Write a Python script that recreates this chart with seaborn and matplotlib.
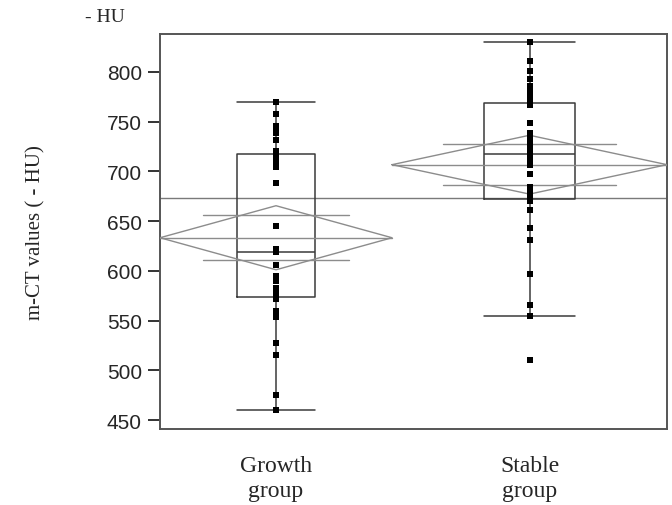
import numpy as np
import pandas as pd
import seaborn as sns
import matplotlib
matplotlib.use("Agg")
import matplotlib.pyplot as plt

# m-CT values (-HU), one point per patient
growth = [460, 475, 515, 527, 554, 560, 572, 575, 580, 583, 590, 595, 606, 619,
          622, 645, 688, 704, 708, 714, 720, 731, 738, 742, 746, 758, 770]
stable = [510, 555, 566, 597, 631, 643, 661, 670, 673, 676, 681, 684, 697, 706,
          712, 716, 718, 722, 727, 730, 735, 738, 749, 767, 772, 776, 780, 786,
          793, 801, 811, 830]
groups = ["Growth", "Stable"]
tick_labels = ["Growth\ngroup", "Stable\ngroup"]
yticks = [450, 500, 550, 600, 650, 700, 750, 800]

df = pd.DataFrame({
    "group": ["Growth"] * len(growth) + ["Stable"] * len(stable),
    "value": growth + stable,
})

sns.set_style("white")
serif = ["Liberation Serif", "DejaVu Serif"]
sans = ["Liberation Sans", "DejaVu Sans"]
plt.rcParams["font.family"] = sans

fig = plt.figure(figsize=(6.72, 5.06), dpi=100)
ax = fig.add_axes([160 / 672, 76 / 506, 507 / 672, 395 / 506])

# group widths proportional to sample size (JMP style)
counts = [len(growth), len(stable)]
k = 2 / sum(counts)
spans = [c * k for c in counts]
left = -spans[0] / 2
right = 1 + spans[1] / 2
edges = [left, left + spans[0], right]

box_col = "#3a3a3a"
for g, sp in zip(groups, spans):
    sns.boxplot(data=df[df["group"] == g], x="group", y="value", order=groups,
                width=sp / 3, whis=1.5, fill=False, showfliers=False,
                color=box_col, linewidth=1.1, capwidths=sp / 3, ax=ax)

# means diamonds with pooled standard error
means = df.groupby("group")["value"].mean().reindex(groups)
ss = df.groupby("group")["value"].apply(lambda s: ((s - s.mean()) ** 2).sum()).reindex(groups)
pooled_sd = np.sqrt(ss.sum() / (sum(counts) - 2))
t95 = 2.002
dcol = "#8c8c8c"
for i, g in enumerate(groups):
    m = means[g]
    ci = t95 * pooled_sd / np.sqrt(counts[i])
    x0, x1 = edges[i], edges[i + 1]
    xc = i
    ax.plot([x0, xc, x1, xc, x0], [m, m + ci, m, m - ci, m], color=dcol, lw=1.0, zorder=3)
    ax.plot([x0, x1], [m, m], color=dcol, lw=1.0, zorder=3)
    half = (x1 - x0) / 2 * 0.63
    off = ci * np.sqrt(2) / 2
    for yy in (m + off, m - off):
        ax.plot([xc - half, xc + half], [yy, yy], color=dcol, lw=1.0, zorder=3)

# grand mean
ax.axhline(df["value"].mean(), color="#7a7a7a", lw=1.0, zorder=1)

sns.stripplot(data=df, x="group", y="value", order=groups, jitter=False,
              marker="s", color="black", size=4.2, linewidth=0, zorder=4, ax=ax)

ax.set_xlim(left, right)
ax.set_ylim(441, 838)
ax.set_yticks(yticks)
ax.set_yticklabels([str(v) for v in yticks], fontsize=15, family=sans)
ax.set_xticks([0, 1])
ax.set_xticklabels(tick_labels, fontsize=17, family=serif, linespacing=1.25)
ax.tick_params(axis="x", bottom=False, length=0, pad=19)
ax.tick_params(axis="y", left=True, length=9, width=1.4, color="#333333", pad=4)
ax.set_xlabel("")
ax.set_ylabel("m-CT values ( - HU)", fontsize=15, family=serif, labelpad=44)

for s in ax.spines.values():
    s.set_visible(True)
    s.set_color("#555555")
    s.set_linewidth(1.4)

fig.text(85 / 672, 1 - 17 / 506, "- HU", fontsize=14, family=serif, va="center", ha="left")

fig.savefig("out.png", dpi=100)
